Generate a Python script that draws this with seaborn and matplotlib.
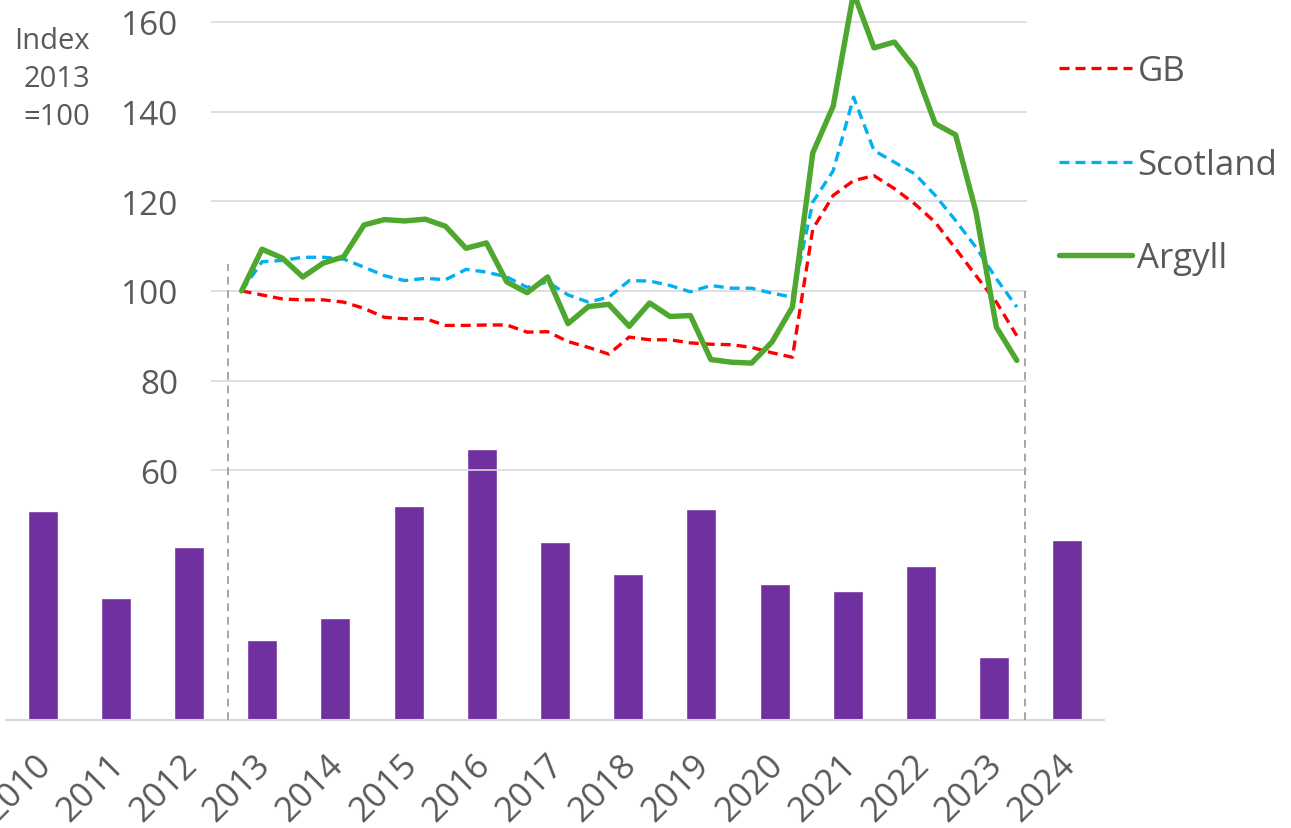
import seaborn as sns
import matplotlib.pyplot as plt
import matplotlib.transforms as mtransforms
import pandas as pd

# Annual bars (no value axis shown on the chart)
years = ['2010', '2011', '2012', '2013', '2014', '2015', '2016', '2017',
         '2018', '2019', '2020', '2021', '2022', '2023', '2024']
bar_values = [20.9, 12.2, 17.3, 8.0, 10.2, 21.4, 27.1, 17.8,
              14.6, 21.1, 13.6, 12.9, 15.4, 6.3, 18.0]

# Index series, 2013 = 100
gb = [100, 99.1, 98.2, 98.0, 98.0, 97.5, 96.1, 94.1, 93.8, 93.8,
      92.3, 92.3, 92.4, 92.4, 90.8, 90.9, 88.7, 87.4, 85.9, 89.7,
      89.1, 89.1, 88.4, 88.1, 88.0, 87.4, 86.2, 85.2, 113.8, 121.3,
      124.6, 125.7, 122.8, 119.4, 115.3, 109.4, 103.4, 97.5, 90.0]
scotland = [100, 106.5, 106.8, 107.5, 107.5, 107.1, 105.3, 103.4, 102.3, 102.8,
            102.5, 104.8, 104.2, 103.1, 100.8, 102.0, 99.1, 97.5, 98.6, 102.3,
            102.2, 101.2, 99.8, 101.2, 100.6, 100.6, 99.5, 98.6, 119.8, 126.8,
            143.2, 131.3, 128.7, 126.1, 121.3, 115.7, 109.7, 102.7, 96.4]
argyll = [100, 109.3, 107.3, 103.1, 106.2, 107.6, 114.7, 115.9, 115.6, 116.0,
          114.4, 109.5, 110.7, 102.0, 99.6, 103.1, 92.7, 96.5, 97.0, 92.1,
          97.3, 94.3, 94.5, 84.7, 84.1, 83.9, 88.6, 96.4, 130.8, 141.2,
          166.5, 154.2, 155.5, 149.7, 137.3, 134.8, 117.6, 91.9, 84.5]

index_ticks = [60, 80, 100, 120, 140, 160]

sns.set_style("white")
plt.rcParams['font.family'] = ['Open Sans', 'DejaVu Sans']
grey = '#595959'

fig = plt.figure(figsize=(12.91, 8.29), dpi=100)
ax_bar = fig.add_axes([6 / 1291, 108 / 829, 1098 / 1291, 721 / 829])
ax_line = fig.add_axes([211 / 1291, 108 / 829, 816 / 1291, 721 / 829])
ax_line.patch.set_alpha(0)

# Bars
bar_df = pd.DataFrame({'Year': years, 'Value': bar_values})
sns.barplot(data=bar_df, x='Year', y='Value', color='#7030A0',
            saturation=1, width=0.41, ax=ax_bar)
ax_bar.set_xlim(-0.5, 14.5)
ax_bar.set_ylim(0, 72.1)
ax_bar.set_yticks([])
ax_bar.set_xlabel('')
ax_bar.set_ylabel('')
for s in ['top', 'left', 'right']:
    ax_bar.spines[s].set_visible(False)
ax_bar.spines['bottom'].set_color('#D9D9D9')
ax_bar.spines['bottom'].set_linewidth(1.5)
ax_bar.tick_params(axis='x', length=0, pad=20, labelsize=25, labelcolor=grey)
shift = mtransforms.ScaledTranslation(-9 / 100, 0, fig.dpi_scale_trans)
for lab in ax_bar.get_xticklabels():
    lab.set_rotation(45)
    lab.set_ha('right')
    lab.set_va('top')
    lab.set_rotation_mode('anchor')
    lab.set_transform(lab.get_transform() + shift)

# Lines
line_df = pd.DataFrame({'Period': range(len(gb)), 'GB': gb,
                        'Scotland': scotland, 'Argyll': argyll})
styles = {
    'GB': dict(color='#FF0000', lw=2.4, dashes=(3, 1.8)),
    'Scotland': dict(color='#00B0F0', lw=2.4, dashes=(3, 1.8)),
    'Argyll': dict(color='#4EA72E', lw=3.9, dashes=None),
}
for name, st in styles.items():
    kw = dict(color=st['color'], linewidth=st['lw'], label=name)
    if st['dashes']:
        kw['dashes'] = st['dashes']
    sns.lineplot(data=line_df, x='Period', y=name, ax=ax_line, **kw)

ax_line.set_xlim(-1.5, 38.5)
ax_line.set_ylim(4.3, 165.1)
ax_line.set_yticks(index_ticks)
ax_line.set_xticks([])
ax_line.set_xlabel('')
ax_line.set_ylabel('')
ax_line.yaxis.grid(True, color='#D9D9D9', linewidth=1.2)
ax_line.set_axisbelow(True)
for s in ax_line.spines.values():
    s.set_visible(False)
ax_line.tick_params(axis='y', length=0, pad=23.5, labelsize=24, labelcolor=grey)

# dashed markers around the 2013-2023 period
ax_line.vlines([-0.67], 4.3, 106, color='#A6A6A6', lw=1.4, linestyles=(0, (4, 3)))
ax_line.vlines([38.4], 4.3, 100, color='#A6A6A6', lw=1.4, linestyles=(0, (4, 3)))

# Legend
handles, labels = ax_line.get_legend_handles_labels()
if ax_line.get_legend():
    ax_line.get_legend().remove()
fig.legend(handles, labels, loc='upper left', bbox_to_anchor=(1042 / 1291, 1 - 38 / 829),
           frameon=False, borderpad=0, fontsize=25, labelcolor=grey,
           handlelength=2.1, handletextpad=0.15, labelspacing=1.71)

fig.text(90 / 1291, 1 - 27 / 829, 'Index\n2013\n=100', ha='right', va='top',
         fontsize=21, linespacing=1.42, color=grey)

plt.savefig('out.png', dpi=100)
